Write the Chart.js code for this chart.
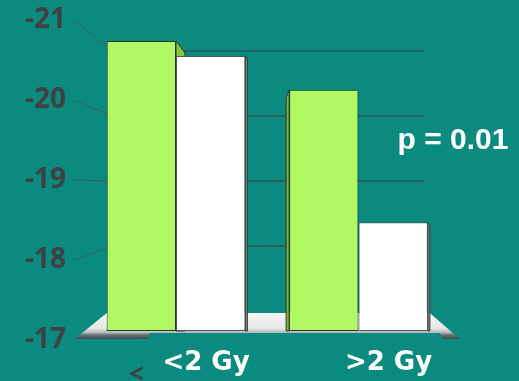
<!DOCTYPE html>
<html>
<head>
<meta charset="utf-8">
<title>Dose groups</title>
<script src="https://cdn.jsdelivr.net/npm/chart.js"></script>
<style>
  html, body { margin: 0; padding: 0; background: #0b8a80; }
  #wrap { width: 519px; height: 381px; }
</style>
</head>
<body>
<div id="wrap"><canvas id="myChart" width="519" height="381"></canvas></div>
<script>
'use strict';

// *******Data*******
let doseGroups = ['<2 Gy', '>2 Gy'];
let greenValues = [-20.87, -20.22];
let whiteValues = [-20.67, -18.45];
let tickValues = [-21, -20, -19, -18, -17];
let pText = 'p = 0.01';

//****DOM References****
const ctx = document.getElementById('myChart').getContext('2d');

// back wall lines sit lower and are squeezed compared to the front labels
const wallShrink = 65 / 80;

// little side faces so the bars look like boxes: dataset, bar, offset
const sideFaces = [
  { ds: 0, idx: 0, dx: 9, dy: 12, color: '#8cc640' },
  { ds: 1, idx: 0, dx: 2, dy: 3, color: '#8a8f8f' },
  { ds: 0, idx: 1, dx: -3, dy: 8, color: '#7db43a' },
  { ds: 1, idx: 1, dx: 2, dy: 3, color: '#8a8f8f' }
];

//*******Plugin for wall, floor and extra text*******
const scenePlugin = {
  id: 'scene',
  beforeDatasetsDraw(chart) {
    const c = chart.ctx;
    const area = chart.chartArea;
    const yLab = chart.scales.y;
    const yFront = yLab.getPixelForValue(-17);
    const yBack = yFront - 29;
    const wallLeft = area.left + 22;
    const wallRight = area.right - 25;

    c.save();

    // grid on the back wall and the slanted lines out to the labels
    tickValues.forEach(function (v) {
      if (v === -17) return;
      let yf = yLab.getPixelForValue(v);
      let yb = yBack - (yFront - yf) * wallShrink;
      c.strokeStyle = 'rgba(55,70,70,0.8)';
      c.lineWidth = 1.5;
      c.beginPath();
      c.moveTo(wallLeft, yb);
      c.lineTo(wallRight, yb);
      c.stroke();
      c.strokeStyle = 'rgba(75,85,85,0.8)';
      c.lineWidth = 1;
      c.beginPath();
      c.moveTo(area.left - 11, yf);
      c.lineTo(wallLeft, yf + (yb - yf) * 0.85);
      c.stroke();
    });

    // floor slab
    let grad = c.createLinearGradient(0, yBack, 0, yFront);
    grad.addColorStop(0, '#f8f8f8');
    grad.addColorStop(0.6, '#e6e6e6');
    grad.addColorStop(0.74, '#b6babc');
    grad.addColorStop(0.82, '#6b7478');
    grad.addColorStop(1, '#343d41');
    c.fillStyle = grad;
    c.beginPath();
    c.moveTo(wallLeft, yBack + 2);
    c.lineTo(area.right - 20, yBack + 2);
    c.lineTo(area.right + 10, yFront - 1);
    c.lineTo(area.right - 7, yFront - 1);
    c.lineTo(area.right - 10, yFront - 7);
    c.lineTo(area.left + 65, yFront - 7);
    c.lineTo(area.left + 63, yFront - 1);
    c.lineTo(area.left - 10, yFront - 1);
    c.closePath();
    c.fill();

    // side faces of the boxes
    sideFaces.forEach(function (f) {
      let bar = chart.getDatasetMeta(f.ds).data[f.idx];
      let edge = f.dx > 0 ? bar.x + bar.width / 2 : bar.x - bar.width / 2;
      c.fillStyle = f.color;
      c.strokeStyle = '#2e3a2e';
      c.lineWidth = 1;
      c.beginPath();
      c.moveTo(edge, bar.y);
      c.lineTo(edge + f.dx, bar.y + f.dy);
      c.lineTo(edge + f.dx, bar.base);
      c.lineTo(edge, bar.base);
      c.closePath();
      c.fill();
      c.stroke();
    });

    c.restore();
  },
  afterDraw(chart) {
    const c = chart.ctx;
    c.save();
    c.fillStyle = '#ffffff';
    c.font = 'bold 30px "Liberation Sans"';
    c.textAlign = 'center';
    c.textBaseline = 'alphabetic';
    c.fillText(pText, 453, 149);
    // stray bracket under the first group
    c.fillStyle = '#404040';
    c.font = 'bold 26px "Open Sans"';
    c.textAlign = 'left';
    c.fillText('<', 129, 383);
    c.restore();
  }
};

//*******Chart*******
let myChartObj = {
  type: 'bar',
  data: {
    labels: doseGroups,
    datasets: [{
      data: greenValues,
      yAxisID: 'yBar',
      base: -17,
      backgroundColor: '#b1f862',
      borderColor: '#263626',
      borderWidth: 1,
      borderSkipped: false
    },
    {
      data: whiteValues,
      yAxisID: 'yBar',
      base: -17,
      backgroundColor: '#ffffff',
      borderColor: '#4d5555',
      borderWidth: 1,
      borderSkipped: false
    }]
  },
  options: {
    responsive: false,
    animation: false,
    layout: {
      padding: { top: 20, right: 69.25, left: 0, bottom: 0 }
    },
    plugins: {
      legend: { display: false },
      tooltip: { enabled: false }
    },
    datasets: {
      bar: { barPercentage: 1, categoryPercentage: 0.76 }
    },
    scales: {
      x: {
        grid: { display: false },
        border: { display: false },
        ticks: {
          color: '#ffffff',
          font: { family: 'DejaVu Sans', size: 26, weight: 'bold' },
          labelOffset: 30,
          padding: 0
        },
        afterFit: function (scale) { scale.height = 41; }
      },
      y: {
        position: 'left',
        min: -21,
        max: -17,
        reverse: true,
        grid: { display: false, drawTicks: false },
        border: { display: false },
        ticks: {
          stepSize: 1,
          color: '#404040',
          padding: 18.75,
          font: { family: 'Open Sans', size: 28, weight: 'bold' }
        },
        afterFit: function (scale) {
          // keep the tick padding from pushing the plot area down
          scale.width = 84.75;
          scale.paddingTop = 0;
          scale.paddingBottom = 0;
        }
      },
      yBar: {
        display: false,
        min: -21.15,
        max: -16.88,
        reverse: true
      }
    }
  },
  plugins: [scenePlugin]
};

const myChart = new Chart(ctx, myChartObj);
</script>
</body>
</html>
